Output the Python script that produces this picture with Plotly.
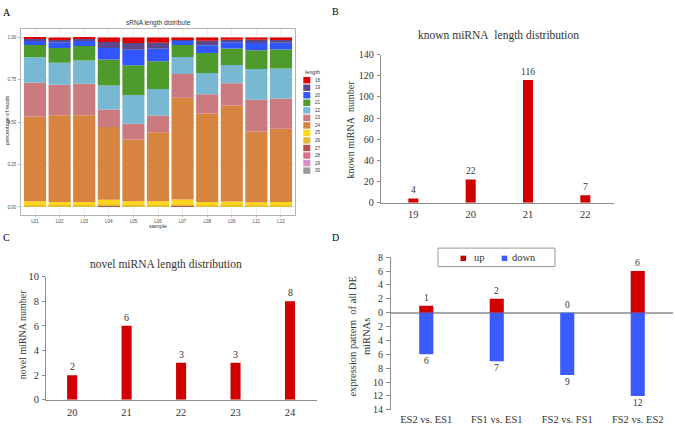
import plotly.graph_objects as go

W, H = 675, 433
SERIF = "Liberation Serif, Times New Roman, serif"
SANS = "Liberation Sans, Arial, sans-serif"


def px(x):
    return x / W


def py(y):
    return 1 - y / H


# ---------------- Panel A data (sRNA length distribution, fraction of reads) ----------------
samples = ["L01", "L02", "L03", "L04", "L05", "L06", "L07", "L08", "L09", "L11", "L12"]
lengths = ["18", "19", "20", "21", "22", "23", "24", "25", "26", "27", "28", "29", "30"]
len_colors = ["#E00000", "#5B4A8B", "#3156FF", "#4E9A2A", "#79B8D2", "#CB7B80", "#D6843F",
              "#FFD51C", "#DCC032", "#B5514E", "#E06C8C", "#DA8FC5", "#9A9A9A"]
len18 = [0.008, 0.010, 0.008, 0.027, 0.033, 0.031, 0.010, 0.019, 0.013, 0.013, 0.015]
len19 = [0.007, 0.019, 0.013, 0.036, 0.040, 0.036, 0.009, 0.027, 0.016, 0.020, 0.016]
len20 = [0.029, 0.034, 0.029, 0.067, 0.091, 0.073, 0.025, 0.046, 0.036, 0.042, 0.040]
len21 = [0.073, 0.086, 0.086, 0.153, 0.176, 0.164, 0.071, 0.118, 0.098, 0.112, 0.113]
len22 = [0.151, 0.130, 0.138, 0.142, 0.169, 0.157, 0.101, 0.125, 0.107, 0.180, 0.177]
len23 = [0.199, 0.180, 0.185, 0.103, 0.093, 0.099, 0.140, 0.114, 0.132, 0.188, 0.178]
len24 = [0.500, 0.512, 0.512, 0.430, 0.365, 0.406, 0.600, 0.522, 0.566, 0.418, 0.432]
len25 = [0.023, 0.019, 0.019, 0.027, 0.022, 0.024, 0.029, 0.021, 0.022, 0.019, 0.021]
len26 = [0.006, 0.006, 0.006, 0.006, 0.006, 0.006, 0.006, 0.005, 0.006, 0.005, 0.005]
len27 = [0.002, 0.002, 0.002, 0.007, 0.003, 0.002, 0.007, 0.001, 0.002, 0.001, 0.001]
len28 = [0.002, 0.002, 0.002, 0.001, 0.001, 0.002, 0.001, 0.001, 0.002, 0.001, 0.001]
len29 = [0.0, 0.0, 0.0, 0.0005, 0.0005, 0.0, 0.0005, 0.0005, 0.0, 0.0005, 0.0005]
len30 = [0.0, 0.0, 0.0, 0.0005, 0.0005, 0.0, 0.0005, 0.0005, 0.0, 0.0005, 0.0005]
a_series = [len18, len19, len20, len21, len22, len23, len24, len25, len26, len27, len28, len29, len30]
a_yticks = [0, 0.25, 0.5, 0.75, 1.0]
a_yticktext = ["0.00", "0.25", "0.50", "0.75", "1.00"]

# ---------------- Panel B data ----------------
known_len = ["19", "20", "21", "22"]
known_counts = [4, 22, 116, 7]

# ---------------- Panel C data ----------------
novel_len = ["20", "21", "22", "23", "24"]
novel_counts = [2, 6, 3, 3, 8]

# ---------------- Panel D data ----------------
comparisons = ["ES2 vs. ES1", "FS1 vs. ES1", "FS2 vs. FS1", "FS2 vs. ES2"]
up_counts = [1, 2, 0, 6]
down_counts = [6, 7, 9, 12]
d_ticks = list(range(-14, 9, 2))

RED = "#D00000"
BLUE = "#3A5BFF"

fig = go.Figure()

# Panel A stacked bars (30 at bottom ... 18 on top)
for name, vals, col in reversed(list(zip(lengths, a_series, len_colors))):
    fig.add_trace(go.Bar(x=samples, y=vals, name=name, width=0.9,
                         marker=dict(color=col, line=dict(width=0)),
                         xaxis="x", yaxis="y", showlegend=False))

# Panel B
fig.add_trace(go.Bar(x=known_len, y=known_counts, width=0.175, marker=dict(color=RED, line=dict(width=0)),
                     xaxis="x2", yaxis="y2", showlegend=False))
# Panel C
fig.add_trace(go.Bar(x=novel_len, y=novel_counts, width=0.185, marker=dict(color=RED, line=dict(width=0)),
                     xaxis="x3", yaxis="y3", showlegend=False))
# Panel D
fig.add_trace(go.Bar(x=comparisons, y=up_counts, name="up", width=0.2,
                     marker=dict(color=RED, line=dict(width=0)),
                     xaxis="x4", yaxis="y4", showlegend=False))
fig.add_trace(go.Bar(x=comparisons, y=[-v for v in down_counts], name="down", width=0.2,
                     marker=dict(color=BLUE, line=dict(width=0)),
                     xaxis="x4", yaxis="y4", showlegend=False))

annotations = []
shapes = []


def ann(text, x, y, size, family=SERIF, color="#333333", angle=0, xanchor="center", yanchor="middle"):
    annotations.append(dict(text=text, x=px(x), y=py(y), xref="paper", yref="paper", showarrow=False,
                            xanchor=xanchor, yanchor=yanchor, textangle=angle,
                            font=dict(size=size, family=family, color=color)))


# Panel letters
ann("A", 7, 7, 10, color="#000000")
ann("B", 335.5, 6, 10, color="#000000")
ann("C", 6, 238, 10, color="#000000")
ann("D", 335.5, 238, 10, color="#000000")

# Panel A texts
ann("sRNA length distribute", 158, 17, 6.5, family=SANS, color="#333333")
ann("percentage of reads", 7, 118, 5.5, family=SANS, color="#333333", angle=-90)
ann("sample", 158, 226.5, 5.5, family=SANS, color="#333333")
ann("length", 303, 68, 5.5, family=SANS, color="#333333", xanchor="left")
for i, (name, col) in enumerate(zip(lengths, len_colors)):
    yc = 76.3 + i * 7.75
    shapes.append(dict(type="rect", xref="paper", yref="paper", x0=px(303.3), x1=px(310.3),
                       y0=py(yc + 3.3), y1=py(yc - 3.3), fillcolor=col, line=dict(width=0)))
    ann(name, 312.5, yc, 4.5, family=SANS, color="#333333", xanchor="left")

# Panel B texts
ann("known miRNA&nbsp;&nbsp;length distribution", 498, 30, 11.5)
ann("known miRNA&nbsp;&nbsp;number", 350, 127, 10, angle=-90)
for i, v in enumerate(known_counts):
    annotations.append(dict(text=str(v), x=i, y=v, xref="x2", yref="y2", showarrow=False,
                            yanchor="bottom", yshift=1, font=dict(size=9.5, family=SERIF, color="#333333")))

# Panel C texts
ann("novel miRNA length distribution", 166, 265.7, 11.5)
ann("novel miRNA number", 22.7, 338, 10, angle=-90)
for i, v in enumerate(novel_counts):
    annotations.append(dict(text=str(v), x=i, y=v, xref="x3", yref="y3", showarrow=False,
                            yanchor="bottom", yshift=1, font=dict(size=10, family=SERIF, color="#333333")))

# Panel D texts
ann("expression pattern&nbsp;&nbsp;of all DE<br>miRNAs", 360, 340, 10.5, angle=-90)
for i, v in enumerate(up_counts):
    annotations.append(dict(text=str(v), x=i, y=v, xref="x4", yref="y4", showarrow=False,
                            yanchor="bottom", yshift=1, font=dict(size=9.5, family=SERIF, color="#333333")))
for i, v in enumerate(down_counts):
    annotations.append(dict(text=str(v), x=i, y=-v, xref="x4", yref="y4", showarrow=False,
                            yanchor="top", yshift=0, font=dict(size=9.5, family=SERIF, color="#333333")))

# Panel D legend (drawn)
shapes.append(dict(type="rect", xref="paper", yref="paper", x0=px(438), x1=px(555), y0=py(268), y1=py(249),
                   line=dict(color="#999999", width=1), fillcolor="white"))
shapes.append(dict(type="rect", xref="paper", yref="paper", x0=px(460.5), x1=px(466), y0=py(262.3), y1=py(256.8),
                   line=dict(width=0), fillcolor=RED))
shapes.append(dict(type="rect", xref="paper", yref="paper", x0=px(501.7), x1=px(507.2), y0=py(262.3), y1=py(256.8),
                   line=dict(width=0), fillcolor=BLUE))
ann("up", 471.5, 259, 10.5, xanchor="left")
ann("down", 510, 259, 10.5, xanchor="left")

GRAYLINE = "#8C8C8C"
serif_tick = dict(size=10, family=SERIF, color="#333333")

fig.update_layout(
    width=W, height=H, margin=dict(l=0, r=0, t=0, b=0),
    paper_bgcolor="white", plot_bgcolor="white",
    barmode="relative", showlegend=False, hovermode=False,
    annotations=annotations, shapes=shapes,
    xaxis=dict(domain=[px(21), px(295)], range=[-0.57, 10.57], type="category", anchor="y",
               showline=True, mirror=True, linecolor="#B3B3B3", linewidth=0.8,
               showgrid=True, gridcolor="#EBEBEB", gridwidth=0.6,
               ticks="outside", ticklen=2, tickwidth=0.6, tickcolor="#B3B3B3",
               tickfont=dict(size=4.5, family=SANS, color="#4D4D4D"), ticklabelstandoff=0),
    yaxis=dict(domain=[py(214.5), py(23.6)], range=[-0.045, 1.05], anchor="x",
               tickvals=a_yticks, ticktext=a_yticktext,
               showline=True, mirror=True, linecolor="#B3B3B3", linewidth=0.8,
               showgrid=True, gridcolor="#EBEBEB", gridwidth=0.6, zeroline=False,
               ticks="outside", ticklen=2, tickwidth=0.6, tickcolor="#B3B3B3",
               tickfont=dict(size=4.5, family=SANS, color="#4D4D4D"), ticklabelstandoff=1),
    xaxis2=dict(domain=[px(380.7), px(614)], range=[-0.57, 3.5], type="category", anchor="y2",
                showline=True, linecolor=GRAYLINE, linewidth=1, ticks="", showgrid=False,
                tickfont=dict(size=10.5, family=SERIF, color="#333333"), ticklabelstandoff=2),
    yaxis2=dict(domain=[py(202.3), py(50)], range=[0, 140], dtick=20, anchor="x2",
                showline=True, linecolor=GRAYLINE, linewidth=1, ticks="outside", ticklen=3,
                tickcolor=GRAYLINE, showgrid=False, zeroline=False, tickfont=serif_tick, ticklabelstandoff=1),
    xaxis3=dict(domain=[px(46), px(316.7)], range=[-0.48, 4.49], type="category", anchor="y3",
                showline=True, linecolor=GRAYLINE, linewidth=1, ticks="", showgrid=False,
                tickfont=dict(size=10.5, family=SERIF, color="#333333"), ticklabelstandoff=3),
    yaxis3=dict(domain=[py(405), py(278.3)], range=[0, 10], dtick=2, anchor="x3",
                showline=True, linecolor=GRAYLINE, linewidth=1, ticks="outside", ticklen=3,
                tickcolor=GRAYLINE, showgrid=False, zeroline=False,
                tickfont=dict(size=10.5, family=SERIF, color="#333333"), ticklabelstandoff=1),
    xaxis4=dict(domain=[px(391), px(673)], range=[-0.5, 3.5], type="category", anchor="y4",
                showline=False, ticks="", showgrid=False,
                tickfont=dict(size=10.5, family=SERIF, color="#333333"), ticklabelstandoff=2),
    yaxis4=dict(domain=[py(415.3), py(258.3)], range=[-14, 8], anchor="x4",
                tickvals=d_ticks, ticktext=[str(abs(v)) for v in d_ticks],
                showline=True, linecolor=GRAYLINE, linewidth=1, ticks="outside", ticklen=4,
                tickcolor=GRAYLINE, showgrid=False, zeroline=True, zerolinecolor="#A8A8A8",
                zerolinewidth=1.5, tickfont=serif_tick, ticklabelstandoff=1),
)

fig.write_html("out.html", config={"displayModeBar": False},
               post_script="document.body.style.margin='0';document.body.style.overflow='hidden';")
